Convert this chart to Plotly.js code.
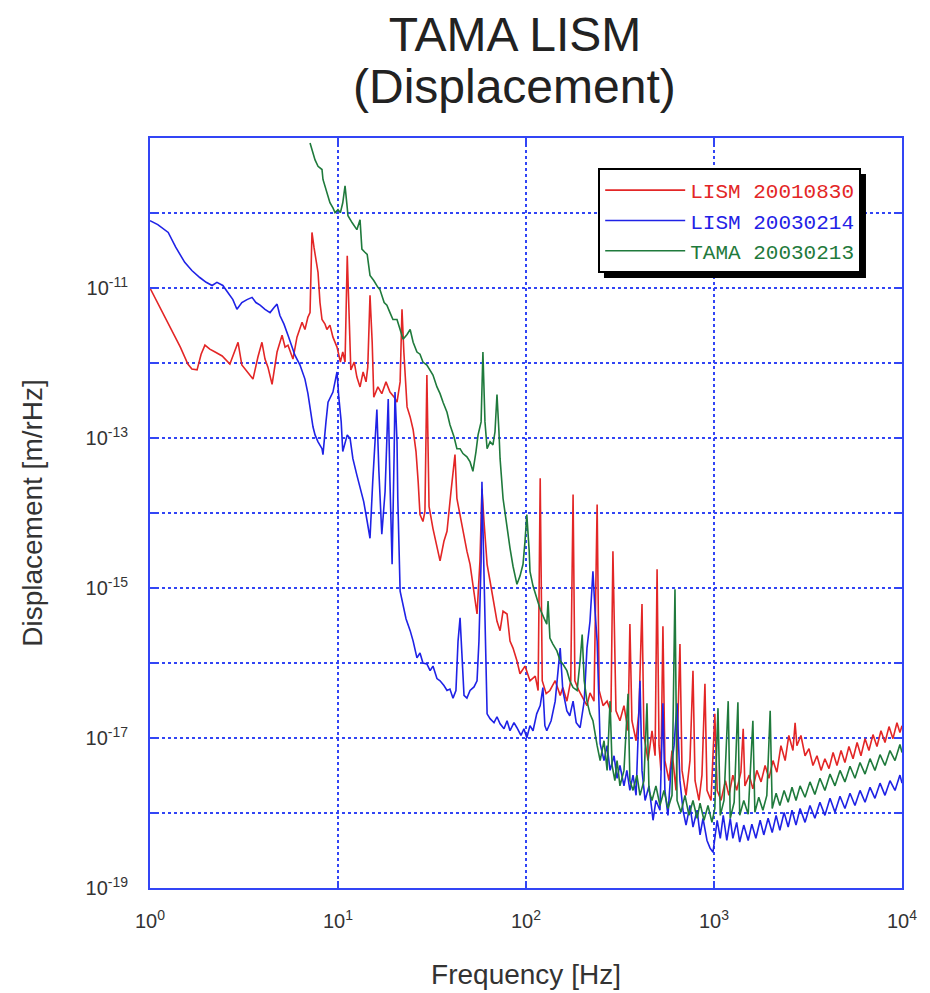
<!DOCTYPE html>
<html>
<head>
<meta charset="utf-8">
<script src="https://cdn.plot.ly/plotly-3.0.1.min.js"></script>
<style>html,body{margin:0;padding:0;background:#fff;}#chart{width:930px;height:993px;}</style>
</head>
<body>
<div id="chart"></div>
<script>
// [frequency Hz, displacement m/rHz]
const lism20010830 = [
[1,1.0e-11],[1.13,5.5e-12],[1.28,3.0e-12],[1.45,1.63e-12],[1.59,9.7e-13],[1.67,8.3e-13],[1.78,8.1e-13],[1.87,1.31e-12],[1.96,1.73e-12],[2.08,1.53e-12],
[2.22,1.40e-12],[2.42,1.24e-12],[2.66,9.7e-13],[2.80,1.40e-12],[2.94,1.89e-12],[3.08,9.4e-13],[3.28,7.6e-13],[3.53,6.1e-13],[3.75,1.20e-12],[3.94,1.89e-12],
[4.09,1.13e-12],[4.24,8.8e-13],[4.46,5.2e-13],[4.74,1.40e-12],[5.04,2.34e-12],[5.23,1.63e-12],[5.42,1.73e-12],[5.76,1.13e-12],[6.05,2.21e-12],[6.44,3.5e-12],
[6.67,2.8e-12],[6.92,4.1e-12],[7.10,4.7e-12],[7.27,5.5e-11],[7.45,3.5e-11],[7.64,2.3e-11],[7.83,1.61e-11],[8.02,6.4e-12],[8.22,3.8e-12],[8.53,3.3e-12],
[8.73,2.8e-12],[9.06,3.2e-12],[9.40,2.21e-12],[9.88,1.63e-12],[10.3,1.03e-12],[10.6,1.40e-12],[10.9,1.03e-12],[11.2,2.7e-11],[11.5,2.57e-12],[11.7,8.1e-13],
[12.2,1.03e-12],[12.6,6.5e-13],[13.1,4.8e-13],[13.6,7.6e-13],[14.1,5.6e-13],[14.4,8.8e-13],[14.8,8.0e-12],[15.2,1.89e-12],[15.5,3.5e-13],[16.3,4.8e-13],
[17.1,3.9e-13],[18.0,5.6e-13],[18.9,4.1e-13],[19.9,3.5e-13],[20.6,3.0e-13],[21.4,5.6e-13],[21.9,5.2e-12],[22.4,1.40e-12],[23.3,2.6e-13],[24.2,1.91e-13],
[25.1,1.29e-13],[26.0,6.6e-14],[26.7,2.6e-14],[27.3,9.5e-15],[28.3,7.7e-15],[29.0,1.05e-14],[29.7,6.9e-13],[30.5,1.22e-14],[32.0,6.2e-15],[33.6,3.6e-15],
[34.9,2.3e-15],[36.6,4.2e-15],[38.0,5.7e-15],[39.9,1.93e-14],[41.9,6.0e-14],[42.9,1.56e-14],[44.6,9.0e-15],[46.2,5.7e-15],[48.5,3.1e-15],[50.4,2.07e-15],
[52.9,9.1e-16],[54.9,4.5e-16],[56.9,2.3e-15],[58.3,2.1e-14],[59.8,7.7e-15],[62.1,2.07e-15],[64.4,1.23e-15],[66.7,7.3e-16],[70.1,3.6e-16],[72.8,2.7e-16],
[75.5,4.9e-16],[79.3,4.5e-16],[82.2,1.96e-16],[85.3,1.58e-16],[89.5,1.07e-16],[92.9,7.2e-17],[98.8,9.1e-17],[105,5.8e-17],[112,6.7e-17],[116,4.3e-17],
[119,2.9e-14],[122,5.8e-17],[128,3.9e-17],[134,4.3e-17],[143,5.8e-17],[152,3.7e-17],[157,4.7e-17],[165,3.1e-17],[173,5.8e-17],[178,1.76e-14],
[182,5.8e-17],[191,4.3e-17],[201,3.4e-17],[211,2.7e-17],[219,4.0e-17],[230,3.1e-17],[239,1.30e-14],[245,4.3e-17],[257,2.7e-17],[270,3.1e-17],
[283,2.2e-17],[290,3.1e-15],[301,2.3e-17],[316,1.70e-17],[332,2.7e-17],[349,1.25e-17],[357,3.3e-16],[366,1.70e-17],[385,9.2e-18],[399,2.3e-17],
[414,6.1e-16],[424,1.08e-17],[446,5.0e-18],[468,1.25e-17],[486,5.8e-18],[498,1.78e-15],[510,7.9e-18],[522,3.7e-18],[535,3.1e-16],[548,5.0e-18],
[576,2.7e-18],[598,6.8e-18],[628,2.0e-18],[659,1.79e-16],[676,3.7e-18],[710,1.72e-18],[745,5.0e-18],[773,7.9e-17],[793,2.7e-18],[832,1.47e-18],
[863,3.2e-18],[895,5.3e-17],[918,2.0e-18],[964,1.47e-18],[1010,2.1e-17],[1040,2.0e-18],[1090,1.47e-18],[1150,2.7e-18],[1200,1.72e-18],[1260,3.2e-18],
[1320,2.0e-18],[1390,3.5e-18],[1430,1.33e-17],[1460,2.3e-18],[1540,3.2e-18],[1610,2.1e-18],[1690,3.7e-18],[1780,2.6e-18],[1870,4.3e-18],[1960,2.9e-18],
[2060,5.0e-18],[2160,3.5e-18],[2270,7.9e-18],[2390,5.0e-18],[2500,1.08e-17],[2630,6.8e-18],[2700,1.60e-17],[2760,7.9e-18],[2900,1.08e-17],[3050,5.8e-18],
[3200,7.2e-18],[3360,4.3e-18],[3530,5.8e-18],[3710,3.7e-18],[3890,5.3e-18],[4090,3.9e-18],[4300,6.4e-18],[4510,4.3e-18],[4740,6.8e-18],[4970,4.7e-18],
[5220,7.7e-18],[5490,5.3e-18],[5770,8.7e-18],[6050,5.8e-18],[6360,9.8e-18],[6670,6.8e-18],[7010,1.11e-17],[7360,7.7e-18],[7730,1.25e-17],[8120,8.7e-18],
[8530,1.42e-17],[8950,9.8e-18],[9400,1.60e-17],[9750,1.18e-17],[10000,1.46e-17]
];
const lism20030214 = [
[1,7.9e-11],[1.10,7.0e-11],[1.25,5.5e-11],[1.37,3.5e-11],[1.53,2.2e-11],[1.67,1.71e-11],[1.84,1.38e-11],[1.99,1.19e-11],[2.14,1.08e-11],[2.27,1.19e-11],
[2.44,1.08e-11],[2.60,8.7e-12],[2.76,7.0e-12],[2.90,5.2e-12],[3.08,6.4e-12],[3.28,7.0e-12],[3.49,7.5e-12],[3.66,6.4e-12],[3.85,5.9e-12],[4.09,5.2e-12],
[4.35,4.7e-12],[4.57,5.5e-12],[4.74,6.1e-12],[4.91,4.3e-12],[5.16,3.3e-12],[5.42,2.34e-12],[5.69,1.63e-12],[5.90,1.27e-12],[6.28,9.4e-13],[6.67,6.1e-13],
[6.92,3.9e-13],[7.10,2.4e-13],[7.36,1.41e-13],[7.55,1.10e-13],[7.83,8.9e-14],[8.22,7.2e-14],[8.32,6.0e-14],[8.63,1.64e-13],[8.85,3.0e-13],[9.40,4.1e-13],
[9.64,5.6e-13],[9.88,7.6e-13],[10.1,3.5e-13],[10.4,1.64e-13],[10.6,6.6e-14],[10.9,8.9e-14],[11.2,1.10e-13],[11.6,9.8e-14],[12.0,5.3e-14],[12.6,3.2e-14],
[13.1,2.25e-14],[13.7,1.42e-14],[14.3,7.7e-15],[14.8,4.6e-15],[15.3,2.6e-14],[15.7,8.9e-14],[16.1,2.4e-13],[16.5,3.6e-14],[17.1,5.2e-15],[17.8,1.93e-14],
[18.5,3.3e-13],[18.9,2.6e-14],[19.4,2.07e-15],[19.9,6.6e-14],[20.1,4.1e-13],[20.6,8.9e-14],[20.8,1.56e-14],[21.4,9.1e-16],[22.2,5.7e-16],[23.0,3.9e-16],
[24.2,2.7e-16],[25.1,1.96e-16],[26.3,1.17e-16],[27.3,1.36e-16],[28.3,1.0e-16],[29.7,9.7e-17],[30.9,7.9e-17],[32.0,9.1e-17],[33.6,6.2e-17],[34.9,5.8e-17],
[36.6,5.0e-17],[38.0,4.3e-17],[39.4,4.5e-17],[40.9,3.4e-17],[42.4,4.3e-17],[43.5,1.96e-16],[44.6,4.0e-16],[45.7,1.07e-16],[46.8,3.7e-17],[48.5,3.4e-17],
[50.4,4.3e-17],[52.9,4.8e-17],[54.9,5.8e-17],[56.2,1.96e-16],[57.7,2.3e-15],[58.3,2.6e-14],[59.0,7.7e-15],[60.5,3.6e-16],[62.1,2.1e-17],[64.4,1.81e-17],
[67.6,1.60e-17],[70.1,1.92e-17],[72.8,1.55e-17],[76.4,1.33e-17],[79.3,1.70e-17],[82.2,1.25e-17],[86.3,1.60e-17],[89.5,1.37e-17],[94.0,1.08e-17],[97.5,1.33e-17],
[101,1.01e-17],[105,1.46e-17],[109,1.25e-17],[114,2.1e-17],[119,2.7e-17],[123,4.7e-17],[126,1.46e-17],[129,1.25e-17],[136,1.70e-17],[143,3.1e-17],
[148,7.9e-17],[152,1.58e-16],[157,4.3e-17],[165,2.3e-17],[171,1.98e-17],[178,3.1e-17],[185,1.60e-17],[194,1.37e-17],[204,3.1e-17],[211,1.58e-16],
[219,3.6e-16],[227,1.67e-15],[233,4.9e-16],[239,1.96e-16],[248,8.4e-18],[260,5.0e-18],[270,7.9e-18],[280,3.7e-18],[294,5.8e-18],[305,2.9e-18],
[316,4.3e-18],[332,2.3e-18],[344,3.7e-18],[357,2.0e-18],[371,3.2e-18],[385,1.72e-18],[404,5.8e-17],[414,3.7e-18],[430,1.47e-18],[451,2.3e-18],
[474,8.0e-19],[491,1.47e-18],[516,1.09e-18],[535,2.9e-17],[548,2.0e-18],[569,9.3e-19],[590,3.7e-18],[613,7.9e-18],[636,2.9e-17],[659,2.7e-18],
[684,1.09e-18],[710,6.9e-19],[745,1.26e-18],[773,6.5e-19],[813,1.09e-18],[843,5.1e-19],[874,8.5e-19],[918,4.3e-19],[953,3.4e-19],[988,3.0e-19],
[1040,8.0e-19],[1080,4.6e-19],[1120,9.3e-19],[1170,4.3e-19],[1220,8.5e-19],[1260,4.6e-19],[1320,7.5e-19],[1370,4.1e-19],[1440,6.9e-19],[1520,4.3e-19],
[1590,7.1e-19],[1670,4.6e-19],[1760,8.0e-19],[1840,5.1e-19],[1940,8.5e-19],[2040,5.5e-19],[2140,9.3e-19],[2240,5.9e-19],[2360,1.02e-18],[2480,6.5e-19],
[2600,1.09e-18],[2730,6.9e-19],[2870,1.15e-18],[3050,7.5e-19],[3240,1.26e-18],[3440,8.5e-19],[3660,1.39e-18],[3890,9.3e-19],[4140,1.57e-18],[4400,1.02e-18],
[4680,1.67e-18],[4970,1.15e-18],[5290,1.83e-18],[5620,1.26e-18],[5980,2.0e-18],[6360,1.39e-18],[6760,2.2e-18],[7180,1.57e-18],[7640,2.5e-18],[8120,1.72e-18],
[8630,2.7e-18],[9180,2.0e-18],[9750,3.2e-18],[10000,2.5e-18]
];
const tama20030213 = [
[7.10,8.6e-10],[7.36,6.3e-10],[7.55,5.1e-10],[7.83,4.2e-10],[8.22,3.8e-10],[8.32,2.8e-10],[8.63,2.0e-10],[9.06,1.37e-10],[9.40,1.17e-10],[9.64,1.01e-10],
[10.0,1.11e-10],[10.3,1.01e-10],[10.6,1.37e-10],[10.9,2.3e-10],[11.2,1.17e-10],[11.3,9.2e-11],[11.9,7.4e-11],[12.6,6.0e-11],[13.1,8.1e-11],[13.4,3.3e-11],
[13.9,3.0e-11],[14.3,2.8e-11],[14.8,1.47e-11],[15.5,1.26e-11],[16.3,1.02e-11],[16.7,9.6e-12],[17.6,6.4e-12],[18.2,5.9e-12],[18.9,4.7e-12],[19.6,3.8e-12],
[20.6,3.8e-12],[21.4,2.7e-12],[22.2,2.07e-12],[23.3,2.4e-12],[24.2,2.8e-12],[25.1,1.89e-12],[26.3,1.40e-12],[27.3,1.31e-12],[28.3,1.03e-12],[29.7,9.4e-13],
[30.9,8.1e-13],[32.0,6.9e-13],[33.6,4.8e-13],[34.9,3.9e-13],[36.2,3.0e-13],[38.0,2.2e-13],[39.4,1.50e-13],[41.4,1.04e-13],[42.9,7.2e-14],[44.6,7.2e-14],
[46.2,6.2e-14],[48.5,5.6e-14],[50.4,4.8e-14],[52.2,3.6e-14],[54.2,6.6e-14],[55.6,1.10e-13],[57.7,1.64e-13],[59.0,1.40e-12],[60.5,1.64e-13],[62.1,7.2e-14],
[64.4,8.9e-14],[66.7,8.1e-14],[68.4,1.21e-13],[70.1,3.8e-13],[71.8,1.21e-13],[72.8,5.3e-14],[75.5,1.56e-14],[78.3,7.7e-15],[82.2,3.4e-15],[85.3,1.95e-15],
[89.5,1.12e-15],[92.9,1.44e-15],[96.4,2.07e-15],[98.8,4.2e-15],[101,9.5e-15],[104,3.1e-15],[105,1.67e-15],[109,1.06e-15],[114,7.3e-16],[119,5.2e-16],
[125,3.9e-16],[129,3.3e-16],[131,6.7e-16],[134,2.15e-16],[139,1.79e-16],[146,1.45e-16],[152,1.07e-16],[157,9.7e-17],[165,7.9e-17],[171,5.8e-17],
[178,4.7e-17],[187,4.3e-17],[194,1.07e-16],[199,2.4e-16],[204,5.8e-17],[211,3.1e-17],[219,2.1e-17],[227,1.70e-17],[239,7.9e-18],[248,5.0e-18],
[260,9.2e-18],[270,3.7e-18],[280,3.1e-17],[287,4.3e-18],[297,2.7e-18],[305,5.0e-18],[316,2.3e-18],[332,3.7e-18],[349,3.9e-17],[357,2.7e-18],
[371,2.0e-18],[389,3.2e-18],[404,1.72e-18],[424,2.7e-18],[440,2.9e-17],[451,2.0e-18],[468,1.47e-18],[491,2.3e-18],[516,1.26e-18],[542,2.0e-18],
[569,1.15e-18],[598,1.72e-18],[620,9.6e-16],[636,1.47e-18],[667,1.02e-18],[701,1.72e-18],[736,9.3e-19],[773,1.47e-18],[813,8.5e-19],[843,1.35e-18],
[885,8.0e-19],[929,1.26e-18],[975,7.5e-19],[1010,1.15e-18],[1050,2.5e-17],[1080,9.3e-19],[1130,1.47e-18],[1190,3.1e-17],[1220,8.5e-19],[1280,1.39e-18],
[1340,3.0e-17],[1370,9.3e-19],[1440,1.47e-18],[1520,9.6e-19],[1610,1.70e-17],[1650,1.02e-18],[1730,1.62e-18],[1820,1.09e-18],[1910,1.72e-18],[1990,2.3e-17],
[2040,1.15e-18],[2140,1.83e-18],[2240,1.26e-18],[2360,2.0e-18],[2480,1.39e-18],[2600,2.2e-18],[2730,1.47e-18],[2870,2.3e-18],[3050,1.62e-18],[3240,2.6e-18],
[3440,1.77e-18],[3660,2.9e-18],[3890,2.0e-18],[4140,3.3e-18],[4400,2.3e-18],[4680,3.7e-18],[4970,2.6e-18],[5290,4.2e-18],[5620,2.9e-18],[5980,4.7e-18],
[6360,3.3e-18],[6760,5.3e-18],[7180,3.7e-18],[7640,6.0e-18],[8120,4.3e-18],[8630,6.8e-18],[9180,5.0e-18],[9750,8.2e-18],[10000,6.4e-18]
];

const seriesNames = ['LISM 20010830', 'LISM 20030214', 'TAMA 20030213'];
const seriesData = [lism20010830, lism20030214, tama20030213];
const seriesColors = ['#e32626', '#1f22e6', '#1f7a3c'];

const titleLine1 = 'TAMA LISM';
const titleLine2 = '(Displacement)';

const xTickVals = [1, 10, 100, 1000, 10000];
const xTickText = ['10<sup>0</sup>', '10<sup>1</sup>', '10<sup>2</sup>', '10<sup>3</sup>', '10<sup>4</sup>'];
const yTickVals = [1e-19, 1e-18, 1e-17, 1e-16, 1e-15, 1e-14, 1e-13, 1e-12, 1e-11, 1e-10];
const yTickText = ['10<sup>-19</sup>', '', '10<sup>-17</sup>', '', '10<sup>-15</sup>', '', '10<sup>-13</sup>', '', '10<sup>-11</sup>', ''];

const traces = seriesData.map((d, i) => ({
  type: 'scatter',
  mode: 'lines',
  x: d.map(p => p[0]),
  y: d.map(p => p[1]),
  name: '<span style="color:' + seriesColors[i] + '">' + seriesNames[i] + '</span>',
  line: {color: seriesColors[i], width: 1.6}
}));

const blue = '#3245f5';
const sans = '"Liberation Sans", Arial, sans-serif';
const tickFont = {family: '"Liberation Sans Narrow", "Liberation Sans", Arial, sans-serif', size: 20, color: '#333'};
const axisTitleFont = {family: sans, size: 28, color: '#333'};

const layout = {
  width: 930, height: 993,
  margin: {l: 150, r: 28, t: 138, b: 105, autoexpand: false},
  paper_bgcolor: '#fff', plot_bgcolor: '#fff',
  title: {
    text: titleLine1,
    font: {family: sans, size: 48, color: '#222'},
    x: 515 / 930, xref: 'container', xanchor: 'center',
    y: 1 - 34 / 993, yref: 'container', yanchor: 'middle'
  },
  annotations: [{
    text: titleLine2, showarrow: false,
    font: {family: sans, size: 48, color: '#222'},
    xref: 'paper', yref: 'paper',
    x: (514 - 150) / 752, y: (888 - 87) / 750,
    xanchor: 'center', yanchor: 'middle'
  }],
  xaxis: {
    type: 'log', range: [0, 4],
    tickvals: xTickVals, ticktext: xTickText,
    tickfont: tickFont,
    showgrid: true, gridcolor: blue, griddash: 'dot', gridwidth: 1.5,
    showline: true, linecolor: blue, linewidth: 2, mirror: 'ticks',
    ticks: 'inside', ticklen: 7, tickwidth: 2, tickcolor: blue,
    zeroline: false, ticklabelstandoff: 14,
    title: {text: 'Frequency [Hz]', font: axisTitleFont, standoff: 33}
  },
  yaxis: {
    type: 'log', range: [-19, -9],
    tickvals: yTickVals, ticktext: yTickText,
    tickfont: tickFont,
    showgrid: true, gridcolor: blue, griddash: 'dot', gridwidth: 1.5,
    showline: true, linecolor: blue, linewidth: 2, mirror: 'ticks',
    ticks: 'inside', ticklen: 7, tickwidth: 2, tickcolor: blue,
    zeroline: false, ticklabelstandoff: 16,
    title: {text: 'Displacement [m/rHz]', font: axisTitleFont, standoff: 35}
  },
  showlegend: true,
  legend: {
    x: 0.596, y: 0.96, xanchor: 'left', yanchor: 'top',
    bgcolor: '#fff', bordercolor: '#000', borderwidth: 2,
    font: {family: '"Liberation Mono", "DejaVu Sans Mono", monospace', size: 21},
    itemwidth: 80, tracegroupgap: 0
  },
  shapes: [{
    type: 'rect', xref: 'paper', yref: 'paper',
    x0: 0.6037, x1: 0.9521, y0: 0.8133, y1: 0.952,
    fillcolor: '#000', line: {width: 0}, layer: 'above'
  }]
};

Plotly.newPlot('chart', traces, layout, {displayModeBar: false, staticPlot: true});
</script>
</body>
</html>
